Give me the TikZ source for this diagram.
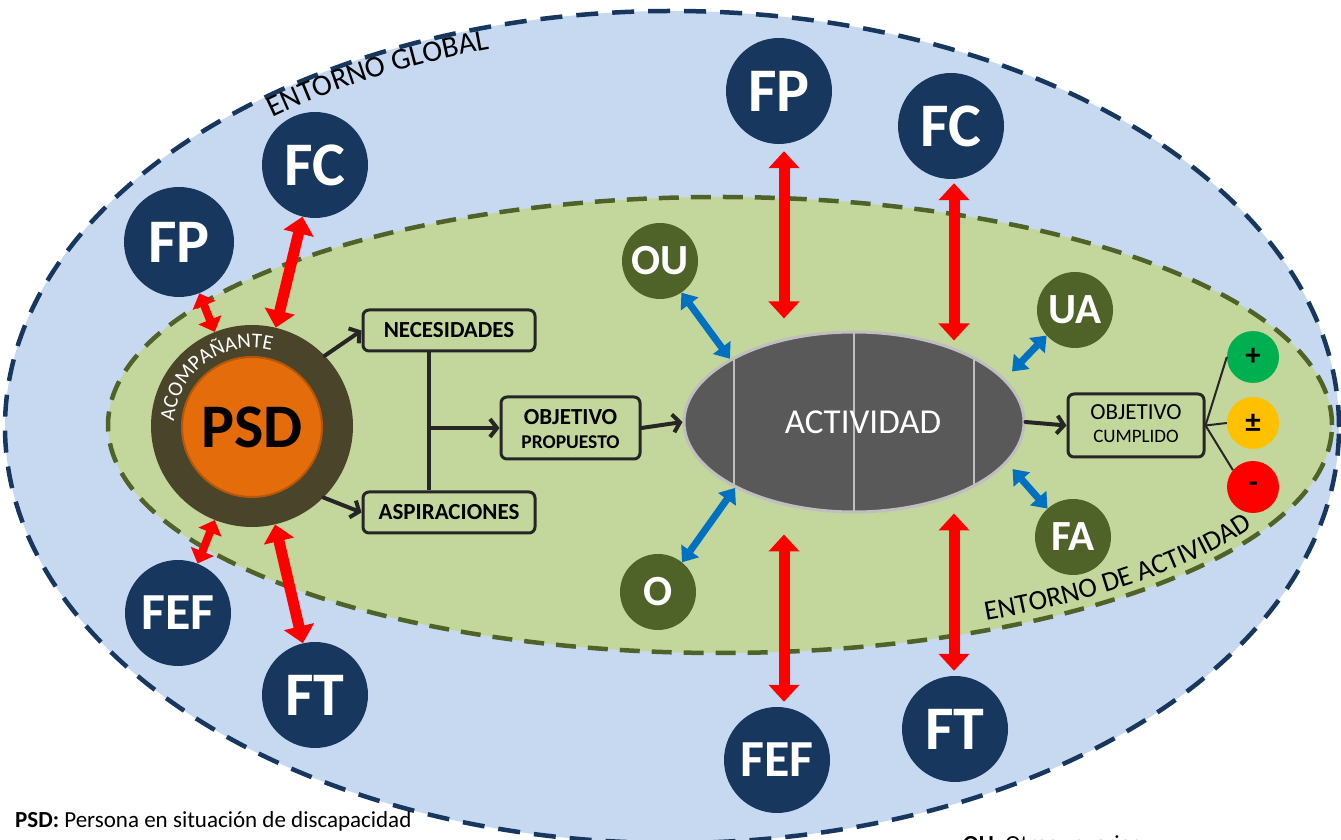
\documentclass[tikz,border=0pt]{standalone}
\usepackage{fontspec}
\setmainfont{Carlito}
\usetikzlibrary{arrows.meta,calc,decorations.text,shapes.geometric}
\definecolor{navy}{HTML}{17375E}
\definecolor{olive}{HTML}{4F6228}
\definecolor{lightblue}{HTML}{C6D9F1}
\definecolor{lightgreen}{HTML}{C3D69B}
\definecolor{psdring}{HTML}{4A452A}
\definecolor{psdorange}{HTML}{E46C0A}
\definecolor{psdborder}{HTML}{B65708}
\definecolor{actgray}{HTML}{595959}
\definecolor{actborder}{HTML}{BFBFBF}
\definecolor{ink}{HTML}{262626}
\definecolor{redarr}{HTML}{FF0000}
\definecolor{bluearr}{HTML}{0070C0}
\definecolor{okgreen}{HTML}{00B050}
\definecolor{midyellow}{HTML}{FFC000}
\tikzset{
 fnode/.style={circle, fill=navy, text=white, inner sep=0pt, minimum size=106pt, font=\fontsize{62}{62}\selectfont\bfseries},
 fefnode/.style={fnode, font=\fontsize{52}{52}\selectfont\bfseries},
 onode/.style={circle, fill=olive, text=white, inner sep=0pt, minimum size=76pt, font=\fontsize{43}{43}\selectfont\bfseries},
 resnode/.style={circle, inner sep=0pt, minimum size=52pt, text=black, font=\fontsize{31}{31}\selectfont\bfseries},
 boxnode/.style={draw=ink, line width=3pt, rounded corners=6pt, fill=lightgreen, inner sep=0pt},
 lbl/.style={inner sep=0pt, text=black},
 flow/.style={draw=ink, line width=4pt, line cap=round, -{Straight Barb[length=7pt,width=18pt]}},
 plainline/.style={draw=ink, line width=3.5pt},
 fanline/.style={draw=ink, line width=2pt},
 redarrow/.style={draw=redarr, line width=11pt, {Triangle[width=30pt,length=17pt]}-{Triangle[width=30pt,length=17pt]}},
 shortred/.style={draw=redarr, line width=8pt, {Triangle[width=24pt,length=13pt]}-{Triangle[width=24pt,length=13pt]}},
 bluearrow/.style={draw=bluearr, line width=7pt, {Triangle[width=21pt,length=14pt]}-{Triangle[width=21pt,length=14pt]}},
}
\begin{document}
\begin{tikzpicture}[x=1pt,y=1pt]
\useasboundingbox (0,0) rectangle (1341,840);
\fill[white] (0,0) rectangle (1341,840);
\clip (0,0) rectangle (1341,840);
% environments
\fill[lightblue] (672,413) ellipse [x radius=667pt, y radius=416pt];
\draw[navy, line width=4.5pt, dash pattern=on 22pt off 14pt] (672,413) ellipse [x radius=667pt, y radius=416pt];
\fill[lightgreen] (720,415) ellipse [x radius=612pt, y radius=228pt];
\draw[olive, line width=4.5pt, dash pattern=on 20pt off 12pt] (720,415) ellipse [x radius=612pt, y radius=228pt];
% curved labels
\path[decorate, decoration={text along path, text={|\fontsize{30}{30}\selectfont|ENTORNO GLOBAL}, text align=left}]
  (672,413) ++(128.3:645pt and 394pt) arc[start angle=128.3, end angle=80, x radius=645pt, y radius=394pt];
\path[decorate, decoration={text along path, text={|\fontsize{28}{28}\selectfont|ENTORNO DE ACTIVIDAD}, text align=left}]
  (720,415) ++(-63.8:603pt and 218pt) arc[start angle=-63.8, end angle=0, x radius=603pt, y radius=218pt];
% outer factor circles
\node[fnode, minimum size=110pt] (fpL) at (179,598) {FP};
\node[fnode] (fcL) at (315,675) {FC};
\node[fefnode] (fefL) at (178,227) {FEF};
\node[fnode] (ftL) at (315,145) {FT};
\node[fnode] (fpT) at (779,749) {FP};
\node[fnode] (fcT) at (951,714) {FC};
\node[fefnode] (fefB) at (777,80) {FEF};
\node[fnode] (ftB) at (955,111) {FT};
% activity environment circles
\node[onode] (ou) at (660,579) {OU};
\node[onode] (o) at (658,248) {O};
\node[onode] (ua) at (1075,530) {UA};
\node[onode] (fa) at (1073,303) {FA};
% PSD
\node[circle, fill=psdring, minimum size=202pt, inner sep=0pt] (psd) at (252,414) {};
\node[circle, fill=psdorange, draw=psdborder, line width=2pt, minimum size=140pt, inner sep=0pt, text=black, font=\fontsize{62}{62}\selectfont\bfseries] (psdin) at (252,413) {PSD};
\path[decorate, decoration={text along path, text={|\fontsize{21}{21}\selectfont|ACOMPAÑANTE}, text align=center, text color=white}]
  (252,414) ++(178:78pt) arc[start angle=178, end angle=74, radius=78pt];
% boxes
\node[boxnode, minimum width=172pt, minimum height=41pt, font=\fontsize{23}{23}\selectfont\bfseries] (nec) at (449,509.5) {NECESIDADES};
\node[boxnode, minimum width=172pt, minimum height=41pt, font=\fontsize{23}{23}\selectfont\bfseries] (asp) at (449,327.5) {ASPIRACIONES};
\node[boxnode, minimum width=139pt, minimum height=62pt] (objp) at (570.5,412) {};
\node[lbl, font=\fontsize{23}{23}\selectfont\bfseries] (objpa) at ($(objp.center)+(0,11)$) {OBJETIVO};
\node[lbl, font=\fontsize{19.5}{19.5}\selectfont\bfseries] (objpb) at ($(objp.center)+(0,-14)$) {PROPUESTO};
% activity
\node[ellipse, fill=actgray, draw=actborder, line width=3pt, minimum width=340pt, minimum height=180pt, inner sep=0pt] (act) at (854,418) {};
\draw[actborder, line width=1.5pt] ($(act.center)+(-120,-64)$) -- ($(act.center)+(-120,64)$);
\draw[actborder, line width=1.5pt] ($(act.center)+(0,-90)$) -- ($(act.center)+(0,90)$);
\draw[actborder, line width=1.5pt] ($(act.center)+(120,-64)$) -- ($(act.center)+(120,64)$);
\node[lbl, text=white, font=\fontsize{35}{35}\selectfont] (acttxt) at ($(act.center)+(9,0)$) {ACTIVIDAD};
\node[boxnode, minimum width=136pt, minimum height=63pt] (objc) at (1136,414.5) {};
\node[lbl, font=\fontsize{23}{23}\selectfont] (objca) at ($(objc.center)+(0,13)$) {OBJETIVO};
\node[lbl, font=\fontsize{19}{19}\selectfont] (objcb) at ($(objc.center)+(0,-11)$) {CUMPLIDO};
% results
\node[resnode, fill=okgreen] (plus) at (1253,483) {+};
\node[resnode, fill=midyellow] (pm) at (1253,417) {±};
\node[resnode, fill=redarr] (minus) at (1253,353) {-};
\draw[fanline] (objc.east) -- (plus.west);
\draw[fanline] (objc.east) -- (pm.west);
\draw[fanline] (objc.east) -- (minus.140);
% flow arrows
\draw[flow] (psd.44) -- (nec.west);
\draw[flow] (psd.-45) -- (asp.west);
\coordinate (jt) at ($(nec.south)+(-20,0)$);
\coordinate (jb) at ($(asp.north)+(-20,0)$);
\draw[plainline] (jt) -- (jb);
\draw[flow] (jt |- objp.west) -- (objp.west);
\draw[flow] (objp.east) -- (act.west);
\draw[flow] (act.east) -- (objc.west);
% red influence arrows
\draw[shortred] (fpL) -- (psd);
\draw[redarrow] (fcL) -- (psd);
\draw[shortred] (fefL) -- (psd);
\draw[redarrow] (ftL) -- (psd);
\draw[redarrow] ($(fpT.south)+(5,-7)$) -- ($(fpT.south |- act.north)+(5,12)$);
\draw[redarrow] ($(fcT.south)+(3,-4)$) -- ($(fcT.south |- act.north)+(3,-10)$);
\draw[redarrow] ($(fefB.north |- act.south)+(7,-21)$) -- ($(fefB.north)+(7,5)$);
\draw[redarrow] ($(ftB.north |- act.south)+(-1,0)$) -- ($(ftB.north)+(-1,5)$);
% blue arrows
\draw[bluearrow] (ou.-56) -- (act.153);
\draw[bluearrow] (o.51) -- (act.209);
\draw[bluearrow, shorten <=10pt] (act.16) -- (ua.222);
\draw[bluearrow, shorten <=8pt] (act.-15) -- (fa.132);
% legend
\node[lbl, anchor=base west, font=\fontsize{23}{23}\selectfont] (leg1) at (15,12) {\textbf{PSD:} Persona en situación de discapacidad};
\node[lbl, anchor=base west, font=\fontsize{23}{23}\selectfont] (leg2) at (963,-12) {\textbf{OU:} Otros usuarios};
\end{tikzpicture}
\end{document}
